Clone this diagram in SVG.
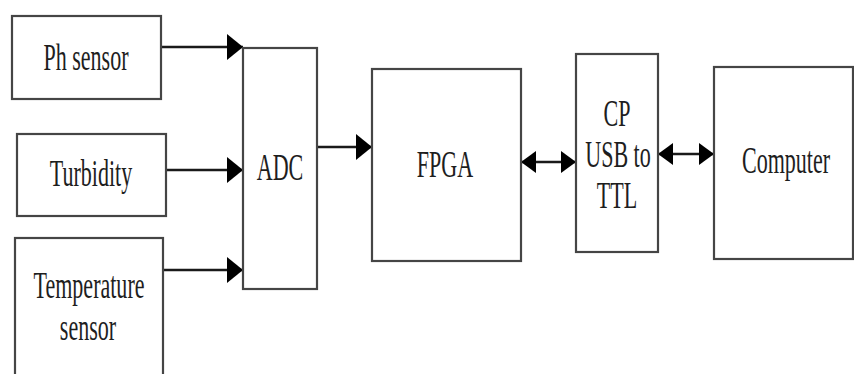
<svg xmlns="http://www.w3.org/2000/svg" width="854" height="374" viewBox="0 0 854 374">
<style>
.box{fill:#fff;stroke:#454545;stroke-width:2.2}
.lbl{font-family:"Liberation Serif","Times New Roman",serif;font-size:38px;fill:#1e1e1e;text-anchor:middle}
.wire{stroke:#1a1a1a;stroke-width:2.6;fill:none}
</style>
<defs>
<marker id="ah" markerUnits="userSpaceOnUse" markerWidth="16" markerHeight="26" refX="16" refY="13" orient="auto-start-reverse" viewBox="0 0 16 26">
<path d="M0,0 L16,13 L0,26 Z" fill="#000"/>
</marker>
<marker id="ah2" markerUnits="userSpaceOnUse" markerWidth="15" markerHeight="22" refX="15" refY="11" orient="auto-start-reverse" viewBox="0 0 15 22">
<path d="M0,0 L15,11 L0,22 Z" fill="#000"/>
</marker>
</defs>
<rect width="854" height="374" fill="#fff"/>
<g id="connectors">
<line class="wire" x1="161" y1="47" x2="243" y2="47" marker-end="url(#ah)"/>
<line class="wire" x1="166" y1="170" x2="243" y2="170" marker-end="url(#ah)"/>
<line class="wire" x1="163" y1="270" x2="243" y2="270" marker-end="url(#ah)"/>
<line class="wire" x1="317" y1="147" x2="372" y2="147" marker-end="url(#ah)"/>
<line class="wire" x1="521" y1="162" x2="576" y2="162" marker-start="url(#ah2)" marker-end="url(#ah2)"/>
<line class="wire" x1="658" y1="154" x2="714" y2="154" marker-start="url(#ah2)" marker-end="url(#ah2)"/>
</g>
<g id="ph">
<rect class="box" x="12" y="16" width="149" height="83"/>
<text class="lbl" transform="translate(86,70) scale(0.58,1)">Ph sensor</text>
</g>
<g id="turbidity">
<rect class="box" x="17" y="134" width="149" height="82"/>
<text class="lbl" transform="translate(91,186) scale(0.58,1)">Turbidity</text>
</g>
<g id="temperature">
<rect class="box" x="15" y="238" width="148" height="140"/>
<text class="lbl" transform="translate(89,298) scale(0.58,1)">Temperature</text>
<text class="lbl" transform="translate(88,340) scale(0.58,1)">sensor</text>
</g>
<g id="adc">
<rect class="box" x="243" y="48" width="74" height="241"/>
<text class="lbl" transform="translate(280,180) scale(0.58,1)">ADC</text>
</g>
<g id="fpga">
<rect class="box" x="372" y="69" width="149" height="192"/>
<text class="lbl" transform="translate(445,177) scale(0.58,1)">FPGA</text>
</g>
<g id="cp">
<rect class="box" x="576" y="54" width="82" height="198"/>
<text class="lbl" transform="translate(617,126) scale(0.58,1)">CP</text>
<text class="lbl" transform="translate(618,167) scale(0.58,1)">USB to</text>
<text class="lbl" transform="translate(617,208) scale(0.58,1)">TTL</text>
</g>
<g id="computer">
<rect class="box" x="714" y="67" width="139" height="192"/>
<text class="lbl" transform="translate(786,173) scale(0.58,1)">Computer</text>
</g>
</svg>
